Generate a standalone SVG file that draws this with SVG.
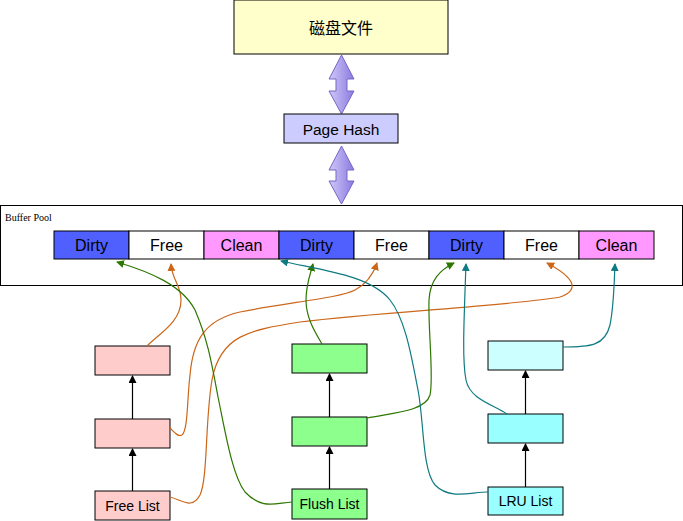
<svg xmlns="http://www.w3.org/2000/svg" width="683" height="521" viewBox="0 0 683 521">
<defs>
<linearGradient id="ag" x1="0" y1="0" x2="1" y2="0">
<stop offset="0" stop-color="#d0c8f8"/>
<stop offset="1" stop-color="#8a7ae0"/>
</linearGradient>
<marker id="mb" markerWidth="8" markerHeight="8" refX="7" refY="4" orient="auto" markerUnits="userSpaceOnUse"><path d="M0,0 L8,4 L0,8 Z" fill="#000"/></marker>
<marker id="mo" markerWidth="8" markerHeight="8" refX="7" refY="4" orient="auto" markerUnits="userSpaceOnUse"><path d="M0,0 L8,4 L0,8 Z" fill="#cc6619"/></marker>
<marker id="mg" markerWidth="8" markerHeight="8" refX="7" refY="4" orient="auto" markerUnits="userSpaceOnUse"><path d="M0,0 L8,4 L0,8 Z" fill="#2d7600"/></marker>
<marker id="mt" markerWidth="8" markerHeight="8" refX="7" refY="4" orient="auto" markerUnits="userSpaceOnUse"><path d="M0,0 L8,4 L0,8 Z" fill="#0e7a82"/></marker>
</defs>
<style>
.b{stroke:#000;stroke-width:1}
.t{font-family:"Liberation Sans",Arial,sans-serif;fill:#000;text-anchor:middle}
.c{font-size:16px}
.l{font-size:14px}
.o{fill:none;stroke:#cc6619;stroke-width:1.2;marker-end:url(#mo)}
.g{fill:none;stroke:#2d7600;stroke-width:1.2;marker-end:url(#mg)}
.tl{fill:none;stroke:#0e7a82;stroke-width:1.2;marker-end:url(#mt)}
.k{fill:none;stroke:#000;stroke-width:1.2;marker-end:url(#mb)}
.da{fill:url(#ag);stroke:#7566c8;stroke-width:1}
</style>
<rect width="683" height="521" fill="#fff"/>
<g id="disk"><rect class="b" x="234" y="0" width="214" height="54" fill="#ffffcc"/><text class="t" x="341" y="34" font-size="16" style="font-family:'Liberation Sans','Noto Sans CJK SC',sans-serif">磁盘文件</text></g>
<g id="arrow1"><polygon class="da" points="341.5,55 354,79 347,79 347,91 354,91 341.5,114 329,91 336,91 336,79 329,79"/></g>
<g id="pagehash"><rect class="b" x="284" y="114" width="114" height="29" fill="#ccccff"/><text class="t" x="341" y="135" font-size="15.5">Page Hash</text></g>
<g id="arrow2"><polygon class="da" points="341.5,146 354,170 347,170 347,181 354,181 341.5,204 329,181 336,181 336,170 329,170"/></g>
<g id="bufferpool"><rect class="b" x="0.5" y="205.5" width="682" height="80" fill="#fff"/><text x="5" y="221" font-family="'Liberation Serif',serif" font-size="10" fill="#000">Buffer Pool</text></g>
<g id="cell1"><rect class="b" x="54" y="231" width="75" height="28" fill="#5060ff"/><text class="t c" x="91.5" y="251">Dirty</text></g>
<g id="cell2"><rect class="b" x="129" y="231" width="75" height="28" fill="#fff"/><text class="t c" x="166.5" y="251">Free</text></g>
<g id="cell3"><rect class="b" x="204" y="231" width="75" height="28" fill="#ff99ff"/><text class="t c" x="241.5" y="251">Clean</text></g>
<g id="cell4"><rect class="b" x="279" y="231" width="75" height="28" fill="#5060ff"/><text class="t c" x="316.5" y="251">Dirty</text></g>
<g id="cell5"><rect class="b" x="354" y="231" width="75" height="28" fill="#fff"/><text class="t c" x="391.5" y="251">Free</text></g>
<g id="cell6"><rect class="b" x="429" y="231" width="75" height="28" fill="#5060ff"/><text class="t c" x="466.5" y="251">Dirty</text></g>
<g id="cell7"><rect class="b" x="504" y="231" width="75" height="28" fill="#fff"/><text class="t c" x="541.5" y="251">Free</text></g>
<g id="cell8"><rect class="b" x="579" y="231" width="75" height="28" fill="#ff99ff"/><text class="t c" x="616.5" y="251">Clean</text></g>
<g id="free1"><rect class="b" x="95" y="346" width="75" height="29" fill="#ffcccc"/></g>
<g id="free2"><rect class="b" x="95" y="419" width="75" height="29" fill="#ffcccc"/></g>
<g id="freelist"><rect class="b" x="95" y="491" width="75" height="29" fill="#ffcccc"/><text class="t l" x="132.5" y="510.5">Free List</text></g>
<g id="flush1"><rect class="b" x="292" y="344" width="75" height="29" fill="#8cff8c"/></g>
<g id="flush2"><rect class="b" x="292" y="417" width="75" height="29" fill="#8cff8c"/></g>
<g id="flushlist"><rect class="b" x="292" y="489" width="75" height="30" fill="#8cff8c"/><text class="t l" x="329.5" y="508.5">Flush List</text></g>
<g id="lru1"><rect class="b" x="488" y="341" width="75" height="29" fill="#ccffff"/></g>
<g id="lru2"><rect class="b" x="488" y="414" width="75" height="29" fill="#99ffff"/></g>
<g id="lrulist"><rect class="b" x="488" y="487" width="75" height="28" fill="#99ffff"/><text class="t l" x="525.5" y="506">LRU List</text></g>
<g id="connectors">
<path class="k" d="M132.5,419 L132.5,376"/>
<path class="k" d="M132.5,491 L132.5,449"/>
<path class="k" d="M329.5,417 L329.5,374"/>
<path class="k" d="M329.5,489 L329.5,447"/>
<path class="k" d="M525.5,414 L525.5,371"/>
<path class="k" d="M525.5,487 L525.5,444"/>
<path class="o" d="M147,346 C160,333 181,322 181,300 C181,285 172,280 171,264"/>
<path class="o" d="M170,428 C175,433 178,437 182,435 C188,430 187,400 190,375 C193,340 205,320 240,312 C290,302 340,298 355,290 C368,283 374,272 377,263"/>
<path class="o" d="M170,497 C182,500 192,510 200,495 C208,478 205,420 212,380 C220,335 250,330 300,322 C380,312 520,305 560,297 C580,290 575,278 547,263"/>
<path class="g" d="M292,502 C275,503 262,510 245,492 C232,475 225,430 218,397 C212,365 208,340 195,310 C182,285 150,272 117,262"/>
<path class="g" d="M322,344 C315,332 306,318 306,300 C306,285 310,275 313,264"/>
<path class="g" d="M367,418 C390,413 425,412 430,395 C434,378 428,330 429,300 C430,280 440,270 454,263"/>
<path class="tl" d="M488,492 C470,492 450,500 435,485 C422,470 424,420 418,390 C412,360 406,320 390,300 C370,275 320,270 281,261"/>
<path class="tl" d="M507,414 C495,405 470,400 466,380 C462,360 464,320 466,264"/>
<path class="tl" d="M563,347 C590,347 605,346 610,325 C614,305 614,285 615,264"/>
</g>
</svg>
